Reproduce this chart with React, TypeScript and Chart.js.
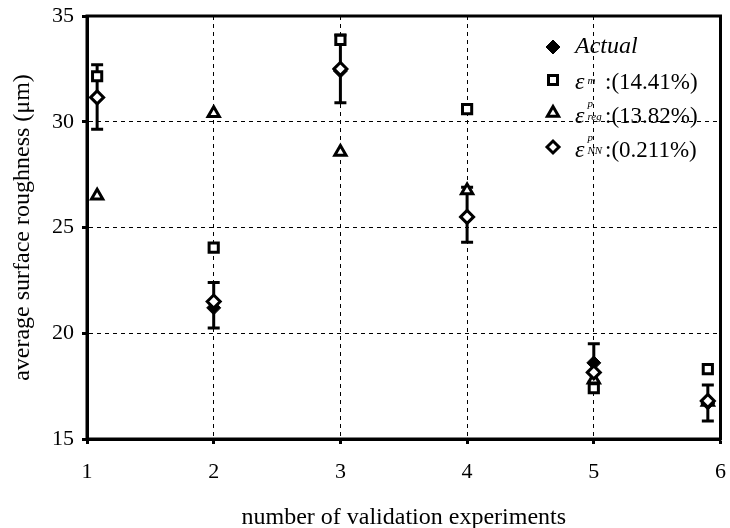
import React, { useEffect, useRef } from 'react';
import { Chart, registerables } from 'chart.js';

Chart.register(...registerables);

// ---- data ----
const xPositions = [1.08, 2, 3, 4, 5, 5.9];
const actualValues = [31.15, 21.2, 32.4, 25.5, 18.6, 16.7];
const modelValues = [32.15, 24.05, 33.87, 30.6, 17.4, 18.3];
const regressionValues = [26.5, 30.4, 28.57, 26.75, 17.8, 16.75];
const nnValues = [31.15, 21.5, 32.5, 25.5, 18.15, 16.8];
const errorLow = [29.65, 20.25, 30.9, 24.3, 17.7, 15.85];
const errorHigh = [32.7, 22.4, 34.1, 26.9, 19.5, 17.55];
const xTicks = [1, 2, 3, 4, 5, 6];
const yTicks = [15, 20, 25, 30, 35];
const legendMain = ['Actual', 'ε', 'ε', 'ε'];
const legendSup = ['', 'm', 'p', 'p'];
const legendSub = ['', '', 'reg', 'NN'];
const legendTail = ['', ':(14.41%)', ':(13.82%)', ':(0.211%)'];
const xTitle = 'number of validation experiments';
const yTitle = 'average surface roughness (μm)';

const SERIF = '"Liberation Serif", "Times New Roman", serif';

const toPoints = (vals: number[]) => vals.map((v, i) => ({ x: xPositions[i], y: v }));

const errorBarPlugin = {
  id: 'errorBars',
  beforeDatasetsDraw(chart: any) {
    const { ctx, scales } = chart;
    const x = scales.x, y = scales.y;
    ctx.save();
    ctx.strokeStyle = '#000';
    ctx.lineWidth = 3;
    ctx.lineCap = 'butt';
    xPositions.forEach((xv, i) => {
      const px = x.getPixelForValue(xv);
      const top = y.getPixelForValue(errorHigh[i]);
      const bot = y.getPixelForValue(errorLow[i]);
      ctx.beginPath();
      ctx.moveTo(px, top);
      ctx.lineTo(px, bot);
      ctx.moveTo(px - 6, top);
      ctx.lineTo(px + 6, top);
      ctx.moveTo(px - 6, bot);
      ctx.lineTo(px + 6, bot);
      ctx.stroke();
    });
    ctx.restore();
  },
};

function drawMarker(ctx: CanvasRenderingContext2D, kind: number, cx: number, cy: number) {
  ctx.save();
  ctx.strokeStyle = '#000';
  ctx.fillStyle = '#fff';
  ctx.lineWidth = 3;
  ctx.beginPath();
  if (kind === 0) {
    ctx.fillStyle = '#000';
    ctx.lineWidth = 1;
    ctx.moveTo(cx - 7, cy);
    ctx.lineTo(cx, cy - 7);
    ctx.lineTo(cx + 7, cy);
    ctx.lineTo(cx, cy + 7);
    ctx.closePath();
  } else if (kind === 1) {
    ctx.rect(cx - 4.5, cy - 4.5, 9, 9);
  } else if (kind === 2) {
    const r = 6.5;
    ctx.moveTo(cx, cy - r);
    ctx.lineTo(cx + r * 0.866, cy + r * 0.5);
    ctx.lineTo(cx - r * 0.866, cy + r * 0.5);
    ctx.closePath();
  } else {
    ctx.moveTo(cx - 6, cy);
    ctx.lineTo(cx, cy - 6);
    ctx.lineTo(cx + 6, cy);
    ctx.lineTo(cx, cy + 6);
    ctx.closePath();
  }
  ctx.fill();
  ctx.stroke();
  ctx.restore();
}

const framePlugin = {
  id: 'frameLegend',
  afterDraw(chart: any) {
    const { ctx, chartArea } = chart;
    ctx.save();
    ctx.strokeStyle = '#000';
    ctx.lineWidth = 3;
    ctx.strokeRect(chartArea.left, chartArea.top, chartArea.right - chartArea.left, chartArea.bottom - chartArea.top);
    ctx.restore();

    // legend
    const markerX = 553;
    const textX = 575;
    const tailX = 605;
    const markerY = [47, 80, 113, 147];
    const baseY = [53, 89, 123, 157];
    ctx.save();
    ctx.fillStyle = '#000';
    ctx.textBaseline = 'alphabetic';
    ctx.textAlign = 'left';
    for (let i = 0; i < legendMain.length; i++) {
      drawMarker(ctx, i, markerX, markerY[i]);
      ctx.font = `italic 24px ${SERIF}`;
      ctx.fillText(legendMain[i], textX, baseY[i]);
      const scriptX = textX + 12.5;
      if (legendSup[i]) {
        ctx.font = `italic 11px ${SERIF}`;
        ctx.fillText(legendSup[i], scriptX, baseY[i] - (legendSub[i] ? 16 : 5));
      }
      if (legendSub[i]) {
        ctx.font = `italic 11px ${SERIF}`;
        ctx.fillText(legendSub[i], scriptX, baseY[i] - 3);
      }
      if (legendTail[i]) {
        ctx.font = `23px ${SERIF}`;
        ctx.fillText(legendTail[i], tailX, baseY[i]);
      }
    }
    ctx.restore();
  },
};

export default function App() {
  const canvasRef = useRef<HTMLCanvasElement | null>(null);

  useEffect(() => {
    const canvas = canvasRef.current;
    if (!canvas) return;
    const chart = new Chart(canvas, {
      type: 'scatter',
      data: {
        datasets: [
          {
            label: 'NN',
            data: toPoints(nnValues),
            pointStyle: 'rectRot',
            pointRadius: 6.5,
            backgroundColor: '#fff',
            borderColor: '#000',
            borderWidth: 3,
            order: 1,
          },
          {
            label: 'Actual',
            data: toPoints(actualValues),
            pointStyle: 'rectRot',
            pointRadius: 7,
            backgroundColor: '#000',
            borderColor: '#000',
            borderWidth: 1,
            order: 2,
          },
          {
            label: 'model',
            data: toPoints(modelValues),
            pointStyle: 'rect',
            pointRadius: 6.5,
            backgroundColor: '#fff',
            borderColor: '#000',
            borderWidth: 3,
            order: 3,
          },
          {
            label: 'reg',
            data: toPoints(regressionValues),
            pointStyle: 'triangle',
            pointRadius: 6.5,
            backgroundColor: '#fff',
            borderColor: '#000',
            borderWidth: 3,
            order: 4,
          },
        ],
      },
      options: {
        animation: false,
        responsive: false,
        events: [],
        layout: { padding: { top: 16, right: 5, left: 0, bottom: 0 } },
        plugins: { legend: { display: false }, tooltip: { enabled: false } },
        scales: {
          x: {
            type: 'linear',
            min: 1,
            max: 6,
            afterBuildTicks: (s: any) => {
              s.ticks = xTicks.map((v) => ({ value: v }));
            },
            afterFit: (s: any) => {
              s.height = 89;
              s.paddingLeft = 0;
              s.paddingRight = 0;
            },
            ticks: {
              color: '#000',
              font: { family: SERIF, size: 22 },
              padding: 15,
              maxRotation: 0,
            },
            grid: {
              color: '#000',
              lineWidth: 1,
              drawTicks: true,
              tickLength: 5,
              tickWidth: 3,
              tickColor: '#000',
            },
            border: { display: true, color: '#000', width: 3, dash: [4, 4] },
            title: {
              display: true,
              text: xTitle,
              color: '#000',
              font: { family: SERIF, size: 24 },
              padding: { top: 0, bottom: -4 },
            },
          },
          y: {
            type: 'linear',
            min: 15,
            max: 35,
            afterBuildTicks: (s: any) => {
              s.ticks = yTicks.map((v) => ({ value: v }));
            },
            afterFit: (s: any) => {
              s.width = 87;
              s.paddingTop = 0;
              s.paddingBottom = 0;
            },
            ticks: {
              color: '#000',
              font: { family: SERIF, size: 22 },
              padding: 8,
            },
            grid: {
              color: '#000',
              lineWidth: 1,
              drawTicks: true,
              tickLength: 5,
              tickWidth: 3,
              tickColor: '#000',
            },
            border: { display: true, color: '#000', width: 3, dash: [4, 4] },
            title: {
              display: true,
              text: yTitle,
              color: '#000',
              font: { family: SERIF, size: 24 },
              padding: { top: 8, bottom: 0 },
            },
          },
        },
      },
      plugins: [errorBarPlugin, framePlugin],
    } as any);
    return () => chart.destroy();
  }, []);

  return (
    <div style={{ position: 'fixed', left: 0, top: 0, width: 730, height: 528, background: '#fff' }}>
      <canvas ref={canvasRef} width={730} height={528} style={{ display: 'block' }} />
    </div>
  );
}
